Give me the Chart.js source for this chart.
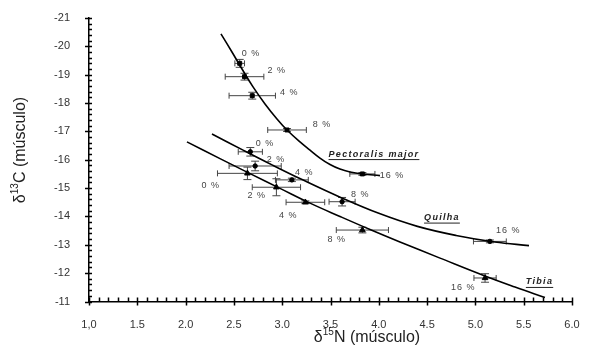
<!DOCTYPE html>
<html>
<head>
<meta charset="utf-8">
<script src="https://cdn.jsdelivr.net/npm/chart.js@4.4.1/dist/chart.umd.min.js"></script>
<style>
  html, body { margin: 0; padding: 0; background: #fff; }
  canvas { display: block; }
</style>
</head>
<body>
<canvas id="isoChart" width="600" height="358"></canvas>
<script>
// ---- tick labels ----
const xTickLabels = ['1,0', '1.5', '2.0', '2.5', '3.0', '3.5', '4.0', '4.5', '5.0', '5.5', '6.0'];
const yTickLabels = ['-21', '-20', '-19', '-18', '-17', '-16', '-15', '-14', '-13', '-12', '-11'];
const pctText = ['0 %', '2 %', '4 %', '8 %', '16 %'];

// ---- Pectoralis major ----
const pectX    = [2.56, 2.61, 2.69, 3.05, 3.83];
const pectY    = [-19.40, -18.93, -18.26, -17.05, -15.50];
const pectXErr = [0.05, 0.20, 0.24, 0.20, 0.13];
const pectYErr = [0.14, 0.12, 0.12, 0.05, 0.05];
const pectCurveX = [2.366, 2.480, 2.584, 2.698, 2.822, 2.946, 3.050, 3.184, 3.288, 3.391, 3.495, 3.598, 3.702, 3.826, 4.012];
const pectCurveY = [-20.44, -19.80, -19.20, -18.57, -17.97, -17.44, -17.05, -16.63, -16.34, -16.06, -15.83, -15.67, -15.57, -15.50, -15.44];
const pectLabelX = [2.677, 2.943, 3.073, 3.412, 4.137];
const pectLabelY = [-19.755, -19.14, -18.37, -17.23, -15.46];

// ---- Quilha ----
const quilX    = [2.67, 2.72, 3.10, 3.62, 5.15];
const quilY    = [-16.28, -15.78, -15.29, -14.52, -13.12];
const quilXErr = [0.125, 0.27, 0.17, 0.135, 0.17];
const quilYErr = [0.15, 0.17, 0.06, 0.15, 0.05];
const quilCurveX = [2.273, 2.6, 2.9, 3.2, 3.6, 4.0, 4.4, 4.8, 5.2, 5.555];
const quilCurveY = [-16.91, -16.33, -15.81, -15.31, -14.68, -14.11, -13.65, -13.33, -13.10, -12.97];
const quilLabelX = [2.822, 2.936, 3.229, 3.809, 5.341];
const quilLabelY = [-16.56, -16.02, -15.56, -14.79, -13.49];

// ---- Tibia ----
const tibX    = [2.64, 2.94, 3.24, 3.83, 5.10];
const tibY    = [-15.52, -15.03, -14.50, -13.52, -11.83];
const tibXErr = [0.31, 0.25, 0.20, 0.27, 0.115];
const tibYErr = [0.22, 0.30, 0.05, 0.10, 0.15];
const tibCurveX = [2.014, 2.356, 2.667, 2.977, 3.288, 3.598, 3.909, 4.219, 4.634, 5.099, 5.410, 5.720];
const tibCurveY = [-16.63, -16.04, -15.51, -14.99, -14.47, -14.00, -13.54, -13.10, -12.53, -11.90, -11.51, -11.14];
const tibLabelX = [2.260, 2.736, 3.063, 3.564, 4.875];
const tibLabelY = [-15.08, -14.73, -14.05, -13.17, -11.50];

// nomes das séries
const seriesNames  = ['Pectoralis major', 'Quilha', 'Tibia'];
const seriesNameX  = [3.950, 4.654, 5.664];
const seriesNameY  = [-16.20, -13.96, -11.69];

const toXY = (xs, ys) => xs.map((x, i) => ({ x: x, y: ys[i] }));

// barras de erro (desenhadas por baixo dos pontos)
const errorBarPlugin = {
  id: 'errorBars',
  beforeDatasetsDraw(chart) {
    const ctx = chart.ctx;
    const sx = chart.scales.x, sy = chart.scales.y;
    ctx.save();
    ctx.strokeStyle = '#444';
    ctx.lineWidth = 1;
    chart.data.datasets.forEach(ds => {
      if (!ds.xErr) return;
      ds.data.forEach((p, i) => {
        const px = sx.getPixelForValue(p.x), py = sy.getPixelForValue(p.y);
        const x1 = sx.getPixelForValue(p.x - ds.xErr[i]);
        const x2 = sx.getPixelForValue(p.x + ds.xErr[i]);
        const y1 = sy.getPixelForValue(p.y - ds.yErr[i]);
        const y2 = sy.getPixelForValue(p.y + ds.yErr[i]);
        ctx.beginPath();
        ctx.moveTo(x1, py); ctx.lineTo(x2, py);
        ctx.moveTo(x1, py - 3); ctx.lineTo(x1, py + 3);
        ctx.moveTo(x2, py - 3); ctx.lineTo(x2, py + 3);
        ctx.moveTo(px, y1); ctx.lineTo(px, y2);
        ctx.moveTo(px - 4, y1); ctx.lineTo(px + 4, y1);
        ctx.moveTo(px - 4, y2); ctx.lineTo(px + 4, y2);
        ctx.stroke();
      });
    });
    ctx.restore();
  }
};

// rótulos de % e nomes das séries
const labelPlugin = {
  id: 'pctLabels',
  afterDatasetsDraw(chart) {
    const ctx = chart.ctx;
    const sx = chart.scales.x, sy = chart.scales.y;
    ctx.save();
    ctx.fillStyle = '#444';
    ctx.font = '9px "Liberation Sans", Arial, sans-serif';
    ctx.letterSpacing = '1px';
    ctx.textAlign = 'center';
    ctx.textBaseline = 'middle';
    [[pectLabelX, pectLabelY], [quilLabelX, quilLabelY], [tibLabelX, tibLabelY]].forEach(([lx, ly]) => {
      lx.forEach((x, i) => {
        ctx.fillText(pctText[i], sx.getPixelForValue(x), sy.getPixelForValue(ly[i]));
      });
    });

    ctx.fillStyle = '#222';
    ctx.strokeStyle = '#222';
    ctx.font = 'italic bold 9px "Liberation Sans", Arial, sans-serif';
    ctx.letterSpacing = '1.3px';
    ctx.lineWidth = 1;
    seriesNames.forEach((name, i) => {
      const cx = sx.getPixelForValue(seriesNameX[i]);
      const cy = sy.getPixelForValue(seriesNameY[i]);
      ctx.fillText(name, cx, cy);
      const w = ctx.measureText(name).width;
      ctx.beginPath();
      ctx.moveTo(cx - w / 2, cy + 5.5);
      ctx.lineTo(cx + w / 2, cy + 5.5);
      ctx.stroke();
    });
    ctx.restore();
  }
};

// marcas dos eixos (maiores cruzam o eixo, menores para dentro) e títulos
const axisPlugin = {
  id: 'axisDecor',
  afterDraw(chart) {
    const ctx = chart.ctx;
    const sx = chart.scales.x, sy = chart.scales.y;
    const area = chart.chartArea;
    ctx.save();
    ctx.strokeStyle = '#000';
    ctx.lineWidth = 1.5;
    ctx.beginPath();
    for (let k = 10; k <= 60; k++) {
      const px = Math.round(sx.getPixelForValue(k / 10)) + 0.5;
      const major = k % 5 === 0;
      ctx.moveTo(px, area.bottom - 4);
      ctx.lineTo(px, area.bottom + (major ? 4 : 0));
    }
    for (let k = 0; k <= 50; k++) {
      const py = Math.round(sy.getPixelForValue(-21 + k * 0.2)) + 0.5;
      const major = k % 5 === 0;
      ctx.moveTo(area.left - (major ? 4 : 0), py);
      ctx.lineTo(area.left + 3, py);
    }
    ctx.stroke();

    // títulos dos eixos com sobrescrito
    const drawTitle = (pre, sup, post) => {
      ctx.font = '16px "Liberation Sans", Arial, sans-serif';
      const w1 = ctx.measureText(pre).width;
      const w3 = ctx.measureText(post).width;
      ctx.font = '10px "Liberation Sans", Arial, sans-serif';
      const w2 = ctx.measureText(sup).width;
      let x = -(w1 + w2 + w3) / 2;
      ctx.textAlign = 'left';
      ctx.textBaseline = 'alphabetic';
      ctx.font = '16px "Liberation Sans", Arial, sans-serif';
      ctx.fillText(pre, x, 6);
      x += w1;
      ctx.font = '10px "Liberation Sans", Arial, sans-serif';
      ctx.fillText(sup, x, -1);
      x += w2;
      ctx.font = '16px "Liberation Sans", Arial, sans-serif';
      ctx.fillText(post, x, 6);
    };
    ctx.fillStyle = '#222';
    ctx.save();
    ctx.translate(367, 336);
    drawTitle('δ', '15', 'N (músculo)');
    ctx.restore();
    ctx.save();
    ctx.translate(19, 150);
    ctx.rotate(-Math.PI / 2);
    drawTitle('δ', '13', 'C (músculo)');
    ctx.restore();
    ctx.restore();
  }
};

const pointDataset = (label, xs, ys, xe, ye, style, r) => ({
  label: label,
  data: toXY(xs, ys),
  xErr: xe,
  yErr: ye,
  showLine: false,
  pointStyle: style,
  pointRadius: r,
  backgroundColor: '#000',
  borderColor: '#000',
  borderWidth: 1
});

const curveDataset = (label, xs, ys) => ({
  label: label,
  data: toXY(xs, ys),
  showLine: true,
  pointRadius: 0,
  borderColor: '#000',
  borderWidth: 1.6,
  tension: 0.4,
  fill: false
});

const ctx = document.getElementById('isoChart').getContext('2d');
new Chart(ctx, {
  type: 'scatter',
  data: {
    datasets: [
      pointDataset('Pectoralis major', pectX, pectY, pectXErr, pectYErr, 'rect', 2.8),
      pointDataset('Quilha', quilX, quilY, quilXErr, quilYErr, 'circle', 2.2),
      pointDataset('Tibia', tibX, tibY, tibXErr, tibYErr, 'triangle', 3.3),
      curveDataset('Pectoralis major ajuste', pectCurveX, pectCurveY),
      curveDataset('Quilha ajuste', quilCurveX, quilCurveY),
      curveDataset('Tibia ajuste', tibCurveX, tibCurveY)
    ]
  },
  options: {
    responsive: false,
    animation: false,
    layout: { padding: { top: 18, right: 28, left: 0, bottom: 0 } },
    plugins: {
      legend: { display: false },
      tooltip: { enabled: false }
    },
    scales: {
      x: {
        type: 'linear',
        min: 1,
        max: 6,
        grid: { display: false },
        border: { display: true, color: '#000', width: 1.5 },
        ticks: {
          stepSize: 0.5,
          padding: 9,
          color: '#333',
          font: { size: 11, family: '"Liberation Sans", Arial, sans-serif' },
          callback: v => xTickLabels[Math.round((v - 1) / 0.5)]
        },
        afterFit: s => { s.height = 56.5; }
      },
      y: {
        type: 'linear',
        min: -21,
        max: -11,
        reverse: true,
        grid: { display: false },
        border: { display: true, color: '#000', width: 1.5 },
        ticks: {
          stepSize: 1,
          padding: 11,
          color: '#333',
          font: { size: 11, family: '"Liberation Sans", Arial, sans-serif' },
          callback: v => yTickLabels[Math.round(v + 21)]
        },
        afterFit: s => { s.width = 89; }
      }
    }
  },
  plugins: [errorBarPlugin, labelPlugin, axisPlugin]
});
</script>
</body>
</html>
